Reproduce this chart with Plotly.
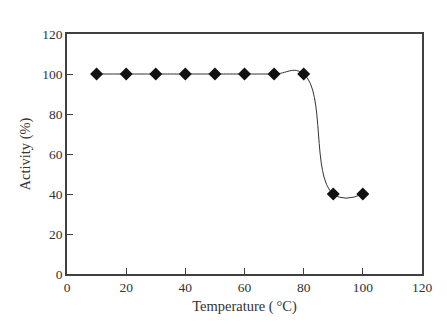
import plotly.graph_objects as go

temperature = [10, 20, 30, 40, 50, 60, 70, 80, 90, 100]
activity = [100, 100, 100, 100, 100, 100, 100, 100, 40, 40]

x_ticks = [0, 20, 40, 60, 80, 100, 120]
y_ticks = [0, 20, 40, 60, 80, 100, 120]

FONT = "Liberation Serif"

fig = go.Figure()
fig.add_trace(go.Scatter(
    x=temperature, y=activity, mode="lines+markers",
    line=dict(color="#333333", width=1, shape="spline", smoothing=1.3),
    marker=dict(symbol="diamond", size=10, color="#111111"),
    showlegend=False,
))

axis_common = dict(
    showgrid=False, zeroline=False, showline=True, mirror=True,
    linecolor="#404040", linewidth=1.5,
    ticks="inside", ticklen=6, tickcolor="#404040", tickwidth=1,
    tickfont=dict(family=FONT, size=13.5, color="#333333"),
    automargin=False,
)

fig.update_xaxes(range=[0, 120], tickvals=x_ticks, **axis_common,
                 title=dict(text="Temperature (\u2009°C)", standoff=7,
                            font=dict(family=FONT, size=14.5, color="#333333")))
fig.update_yaxes(range=[0, 120], tickvals=y_ticks, **axis_common,
                 title=dict(text="Activity (%)", standoff=8,
                            font=dict(family=FONT, size=14.5, color="#333333")))

fig.update_layout(
    width=447, height=324,
    margin=dict(l=67, r=25, t=34, b=50),
    plot_bgcolor="white", paper_bgcolor="white",
)

fig.write_html("out.html", config={"displayModeBar": False},
               post_script="document.body.style.margin='0';")
